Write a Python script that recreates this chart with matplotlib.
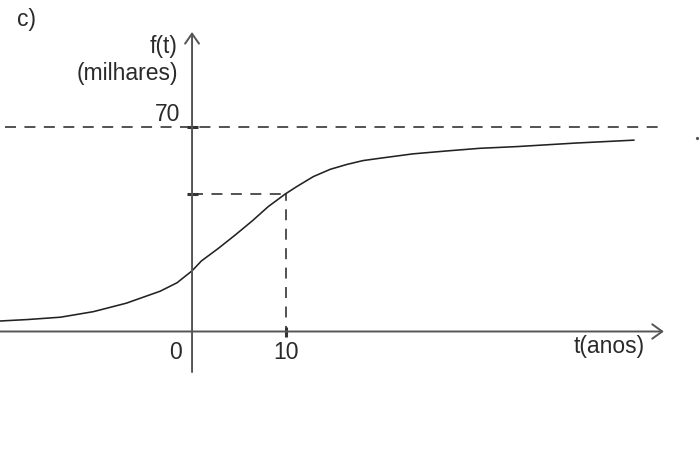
import matplotlib
matplotlib.use("Agg")
import matplotlib.pyplot as plt

plt.rcParams['font.family'] = ['Liberation Sans', 'DejaVu Sans']
plt.rcParams['lines.scale_dashes'] = False

# curve f(t) (thousands)
t_vals = [-20.4, -17.5, -14.0, -10.5, -7.0, -3.4, -1.6, 0.0, 1.0, 2.8, 4.6, 6.4, 8.1,
          9.9, 11.1, 12.9, 14.7, 16.5, 18.2, 20.0, 23.5, 27.1, 30.6, 34.6, 40.8, 47.0]
f_vals = [3.6, 4.1, 4.9, 6.8, 9.7, 13.8, 16.7, 20.8, 24.2, 28.5, 33.1, 37.9, 42.8,
          47.1, 49.6, 53.1, 55.6, 57.3, 58.6, 59.4, 60.9, 61.9, 62.8, 63.4, 64.6, 65.6]

asymptote = 70
t_mark = 10
f_mark = 47.1
tick_labels_x = ["0", "10"]
tick_pos_x = [0, 10]

W, H = 700, 458
fig = plt.figure(figsize=(W / 100, H / 100), dpi=100)
ax = fig.add_axes([0, 0, 1, 1])
ax.set_xlim(-20.43, 54.04)
ax.set_ylim(-43.37, 113.65)
ax.set_axis_off()

axis_col = '#555555'
dash_col = '#444444'
txt_col = '#2a2a2a'

# axes with arrows
ax.annotate('', xy=(50.2, 0), xytext=(-20.43, 0),
            arrowprops=dict(arrowstyle='->,head_length=0.72,head_width=0.52',
                            color=axis_col, lw=1.4, shrinkA=0, shrinkB=0,
                            mutation_scale=10))
ax.annotate('', xy=(0, 102.7), xytext=(0, -13.9),
            arrowprops=dict(arrowstyle='->,head_length=0.72,head_width=0.5',
                            color=axis_col, lw=1.4, shrinkA=0, shrinkB=0,
                            mutation_scale=10))

# dashed guides
dash = (0, (7.9, 6.1))
ax.plot([-19.9, 49.6], [asymptote, asymptote], color=dash_col, lw=1.3, linestyle=dash)
ax.plot([0, t_mark], [f_mark, f_mark], color=dash_col, lw=1.3, linestyle=dash)
ax.plot([t_mark, t_mark], [f_mark, 0], color=dash_col, lw=1.3, linestyle=(3, (7.9, 6.1)))

# small tick marks
for v in [asymptote, f_mark]:
    ax.plot([-0.55, 0.65], [v, v], color='#333333', lw=2.2, solid_capstyle='butt')
ax.plot([t_mark, t_mark], [-1.9, 1.6], color='#333333', lw=2.2, solid_capstyle='butt')

# curve
ax.plot(t_vals, f_vals, color='#222222', lw=1.15, solid_joinstyle='round')

# tiny dot at right
ax.plot([53.7], [66.4], marker='o', markersize=1.3, color='#555555')


def px(x, y):
    return x / W, 1 - y / H


fs = 16.5
fig.text(*px(17, 26), "c)", fontsize=fs, color=txt_col, ha='left', va='baseline')
fig.text(*px(178, 53), "f(t)", fontsize=fs, color=txt_col, ha='right', va='baseline')
fig.text(*px(178, 80), "(milhares)", fontsize=fs, color=txt_col, ha='right', va='baseline')
fig.text(*px(180, 121), "70", fontsize=fs, color=txt_col, ha='right', va='baseline')
for lab, tp in zip(tick_labels_x, tick_pos_x):
    xx = 175 if tp == 0 else 192 + 9.4 * tp
    fig.text(*px(xx, 359), lab, fontsize=fs, color=txt_col, ha='center', va='baseline')
fig.text(*px(609, 353), "t(anos)", fontsize=fs, color=txt_col, ha='center', va='baseline')

fig.savefig('out.png', dpi=100, facecolor='white')
